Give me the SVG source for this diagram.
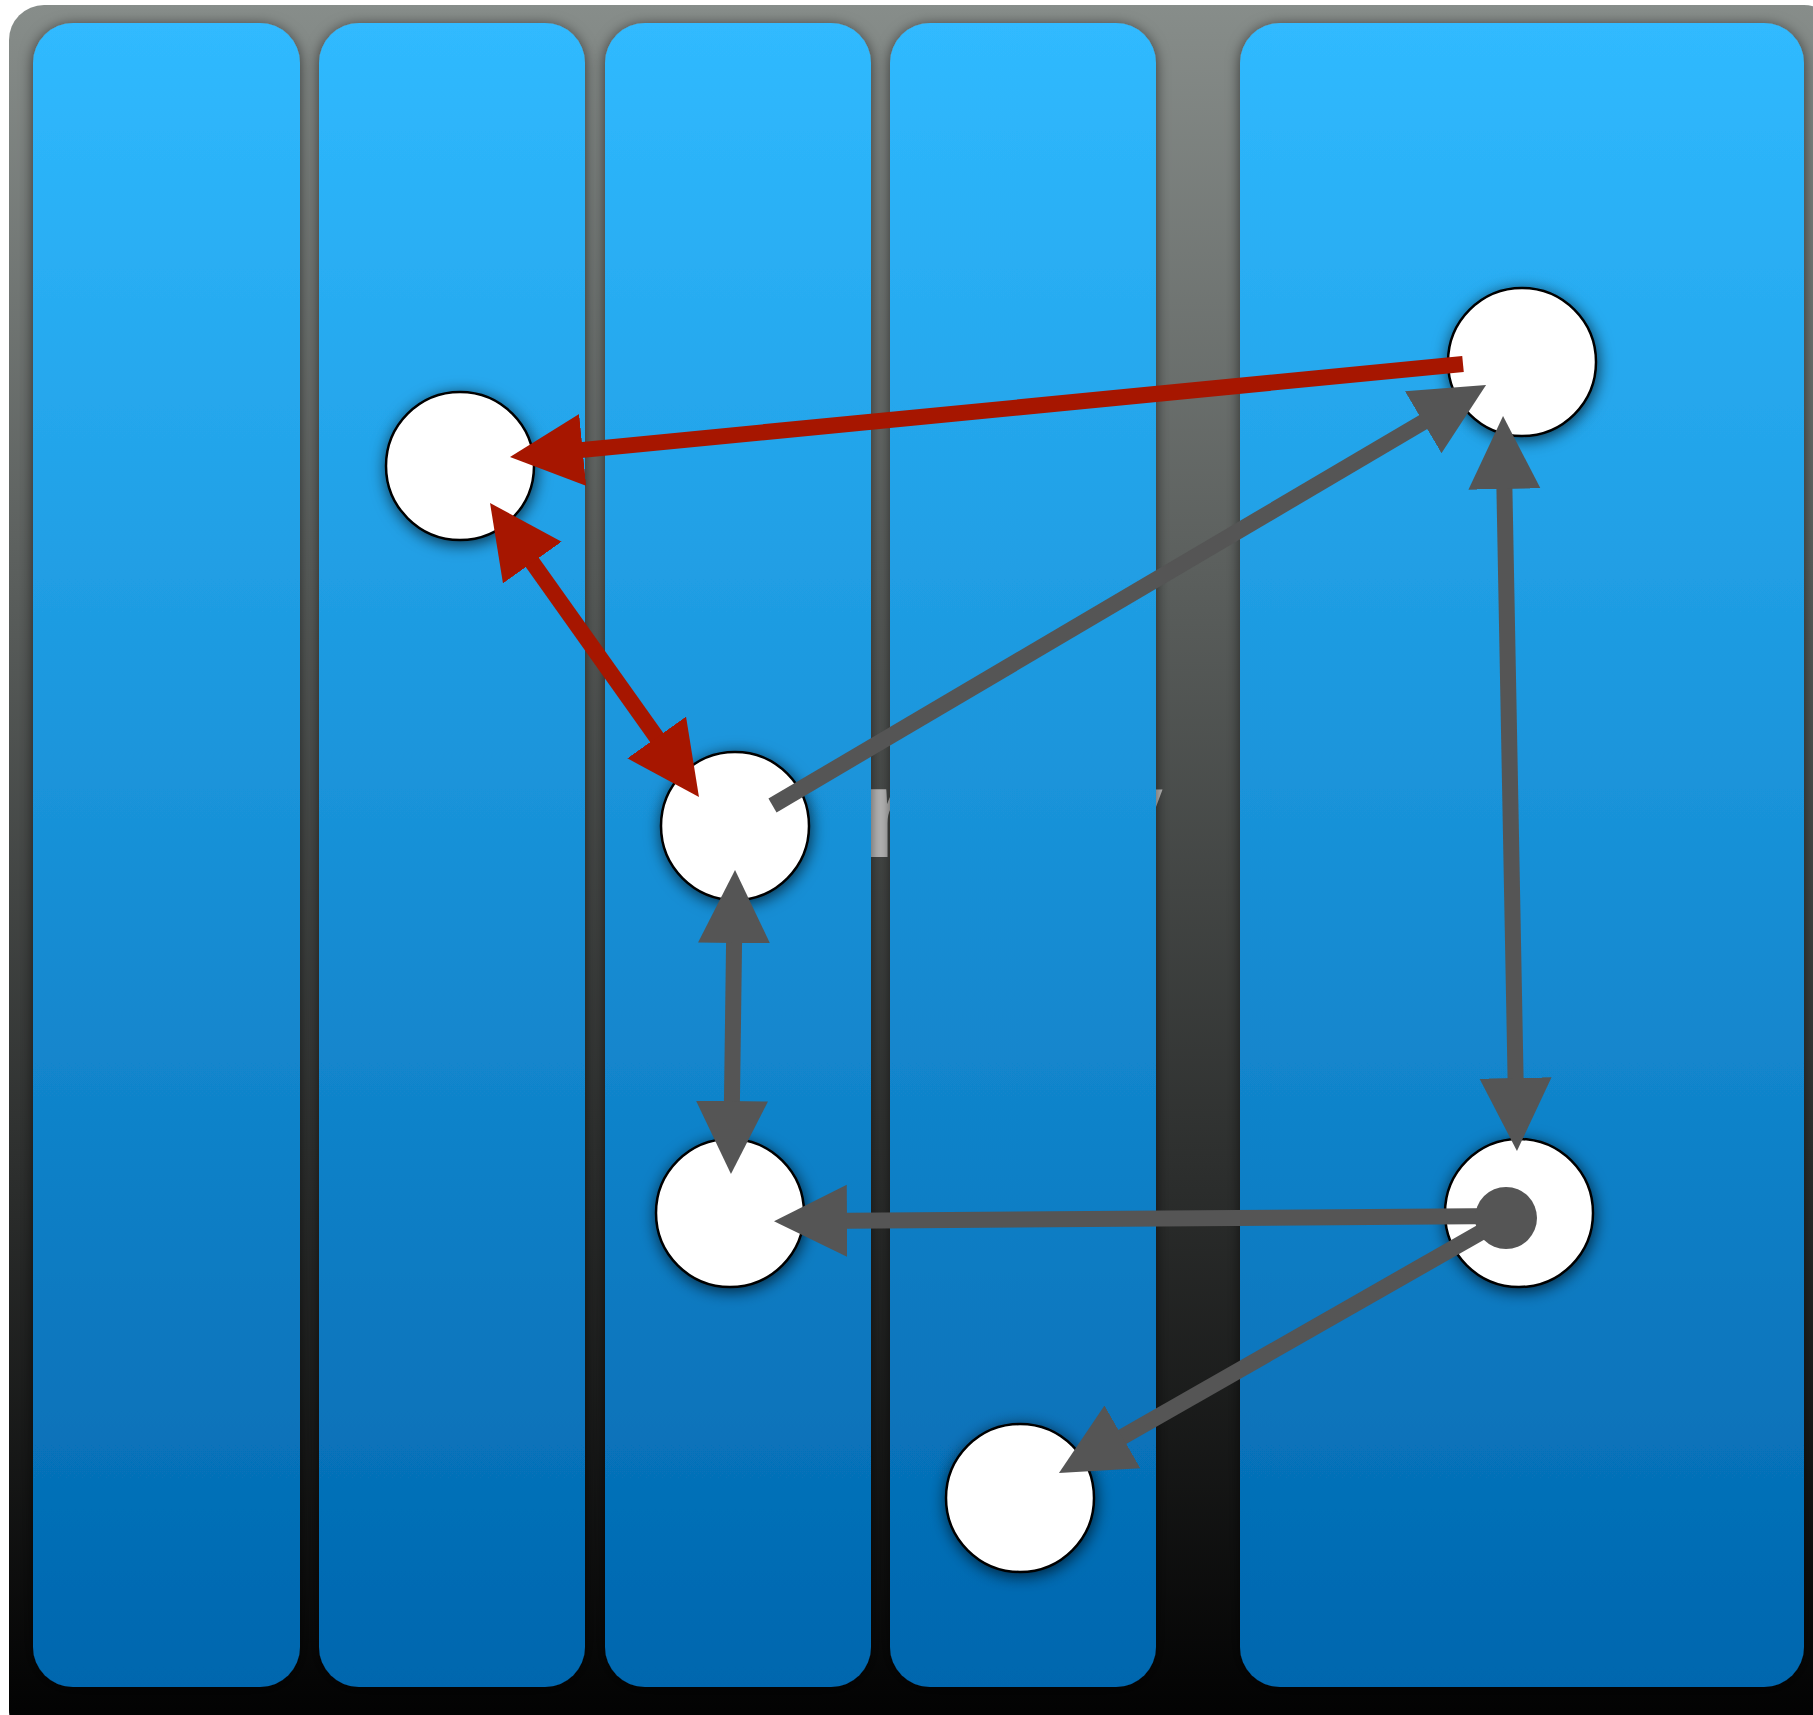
<svg xmlns="http://www.w3.org/2000/svg" width="1813" height="1715" viewBox="0 0 1813 1715">
<style>
.lane{fill:url(#laneGrad);filter:url(#laneShadow)}
.node{fill:#ffffff;stroke:#000000;stroke-width:2.5;filter:url(#nodeShadow)}
.edge{fill:none;stroke-width:16;stroke-linecap:butt}
.gray{stroke:#555555}
.red{stroke:#A61600}
.title{font-family:"Liberation Sans",Arial,sans-serif;font-weight:bold;font-size:128px;fill:#bdbdbd}
</style>
<defs>
<linearGradient id="poolGrad" x1="0" y1="0" x2="0" y2="1">
<stop offset="0" stop-color="#878d8a"/>
<stop offset="1" stop-color="#000000"/>
</linearGradient>
<linearGradient id="laneGrad" x1="0" y1="0" x2="0" y2="1">
<stop offset="0" stop-color="#30BAFF"/>
<stop offset="1" stop-color="#0066AE"/>
</linearGradient>
<filter id="laneShadow" x="-10%" y="-5%" width="120%" height="110%">
<feDropShadow dx="0" dy="2" stdDeviation="7" flood-color="#000" flood-opacity="0.6"/>
</filter>
<filter id="nodeShadow" x="-30%" y="-30%" width="160%" height="160%">
<feDropShadow dx="1" dy="3" stdDeviation="8" flood-color="#000" flood-opacity="0.7"/>
</filter>
<marker id="arrGray" markerUnits="userSpaceOnUse" markerWidth="74" markerHeight="74" refX="33" refY="36" orient="auto-start-reverse" viewBox="0 0 74 74">
<path d="M0,0 L73,36 L0,72 Z" fill="#555555"/>
</marker>
<marker id="arrRed" markerUnits="userSpaceOnUse" markerWidth="74" markerHeight="74" refX="33" refY="36" orient="auto-start-reverse" viewBox="0 0 74 74">
<path d="M0,0 L73,36 L0,72 Z" fill="#A61600"/>
</marker>
</defs>

<g id="pool">
<rect x="9" y="5" width="1830" height="1740" rx="35" ry="35" fill="url(#poolGrad)"/>
<text class="title" y="857"><tspan x="861">r</tspan><tspan x="1092">y</tspan></text>
</g>

<g id="lanes">
<rect id="lane1" class="lane" x="33" y="23" width="267" height="1664" rx="40" ry="40"/>
<rect id="lane2" class="lane" x="319" y="23" width="266" height="1664" rx="40" ry="40"/>
<rect id="lane3" class="lane" x="605" y="23" width="266" height="1664" rx="40" ry="40"/>
<rect id="lane4" class="lane" x="890" y="23" width="266" height="1664" rx="40" ry="40"/>
<rect id="lane5" class="lane" x="1240" y="23" width="564" height="1664" rx="40" ry="40"/>
</g>

<g id="nodeA"><circle class="node" cx="460" cy="466" r="74"/></g>
<g id="nodeB"><circle class="node" cx="1522" cy="362" r="74"/></g>
<g id="nodeC"><circle class="node" cx="735" cy="826" r="74"/></g>
<g id="nodeD"><circle class="node" cx="730" cy="1213" r="74"/></g>
<g id="nodeE"><circle class="node" cx="1519" cy="1213" r="74"/></g>
<g id="nodeF"><circle class="node" cx="1020" cy="1498" r="74"/></g>

<g id="connectors">
<path class="edge red" d="M1463,364 L549.8,453.1" marker-end="url(#arrRed)"/>
<path class="edge red" d="M513.2,535.6 L675.8,764.4" marker-start="url(#arrRed)" marker-end="url(#arrRed)"/>
<path class="edge gray" d="M772.5,805.5 L1451.6,405.4" marker-end="url(#arrGray)"/>
<path class="edge gray" d="M734.5,910 L731.5,1134" marker-start="url(#arrGray)" marker-end="url(#arrGray)"/>
<path class="edge gray" d="M1503.8,456 L1516.2,1111" marker-start="url(#arrGray)" marker-end="url(#arrGray)"/>
<path class="edge gray" d="M1506,1216 L814,1221" marker-end="url(#arrGray)"/>
<path class="edge gray" d="M1506,1218 L1093.7,1453.2" marker-end="url(#arrGray)"/>
<circle cx="1506" cy="1218" r="31" fill="#555555"/>
</g>
</svg>
